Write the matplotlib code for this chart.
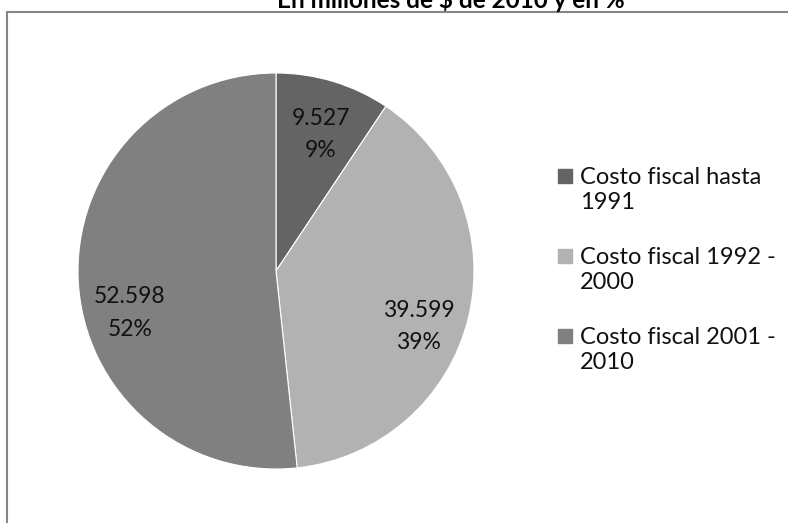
import matplotlib
matplotlib.use("Agg")
import matplotlib.pyplot as plt
from matplotlib.patches import Rectangle

plt.rcParams['font.family'] = ['Lato', 'DejaVu Sans']

# datos: costo fiscal en millones de $ de 2010
categorias = ['Costo fiscal hasta\n1991', 'Costo fiscal 1992 -\n2000', 'Costo fiscal 2001 -\n2010']
valores = [9527, 39599, 52598]
colores = ['#646464', '#b2b2b2', '#808080']
total = sum(valores)

W, H = 788, 523
fig = plt.figure(figsize=(W / 100, H / 100), dpi=100)

# marco del grafico
fig.patches.append(Rectangle((7 / W, -0.1), 1.2, 1 - 12 / H + 0.1, transform=fig.transFigure,
                             fill=False, edgecolor='#868686', linewidth=1.5))

fig.text(451 / W, 1 - 8 / H, 'En millones de $ de 2010 y en %', ha='center', va='baseline',
         fontsize=17.5, fontweight='bold')

ax = fig.add_axes([78 / W, (H - 469) / H, 396 / W, 396 / H])

def etiqueta(pct):
    v = pct * total / 100
    return f"{v:,.0f}".replace(",", ".") + f"\n{pct:.0f}%"

wedges, texts, autotexts = ax.pie(valores, colors=colores, startangle=90, counterclock=False,
                                  wedgeprops=dict(edgecolor='white', linewidth=0.8),
                                  autopct=etiqueta, pctdistance=0.73,
                                  textprops=dict(fontsize=16.5, color='#111111', linespacing=1.65))
ax.set_xlim(-1, 1)
ax.set_ylim(-1, 1)

# posicion de las etiquetas como en Excel
pos_etiquetas = [(0.227, 0.69), (0.72, -0.278), (-0.737, -0.212)]
for t, p in zip(autotexts, pos_etiquetas):
    t.set_position(p)

# leyenda
for i, (lab, c) in enumerate(zip(categorias, colores)):
    y = 169 + i * 80
    fig.patches.append(Rectangle((558 / W, 1 - (y + 14) / H), 14 / W, 14 / H,
                                 transform=fig.transFigure, color=c))
    fig.text(580 / W, 1 - (y - 2) / H, lab, va='top', ha='left', fontsize=17,
             color='#111111', linespacing=1.25)

plt.savefig('out.png', dpi=100)
